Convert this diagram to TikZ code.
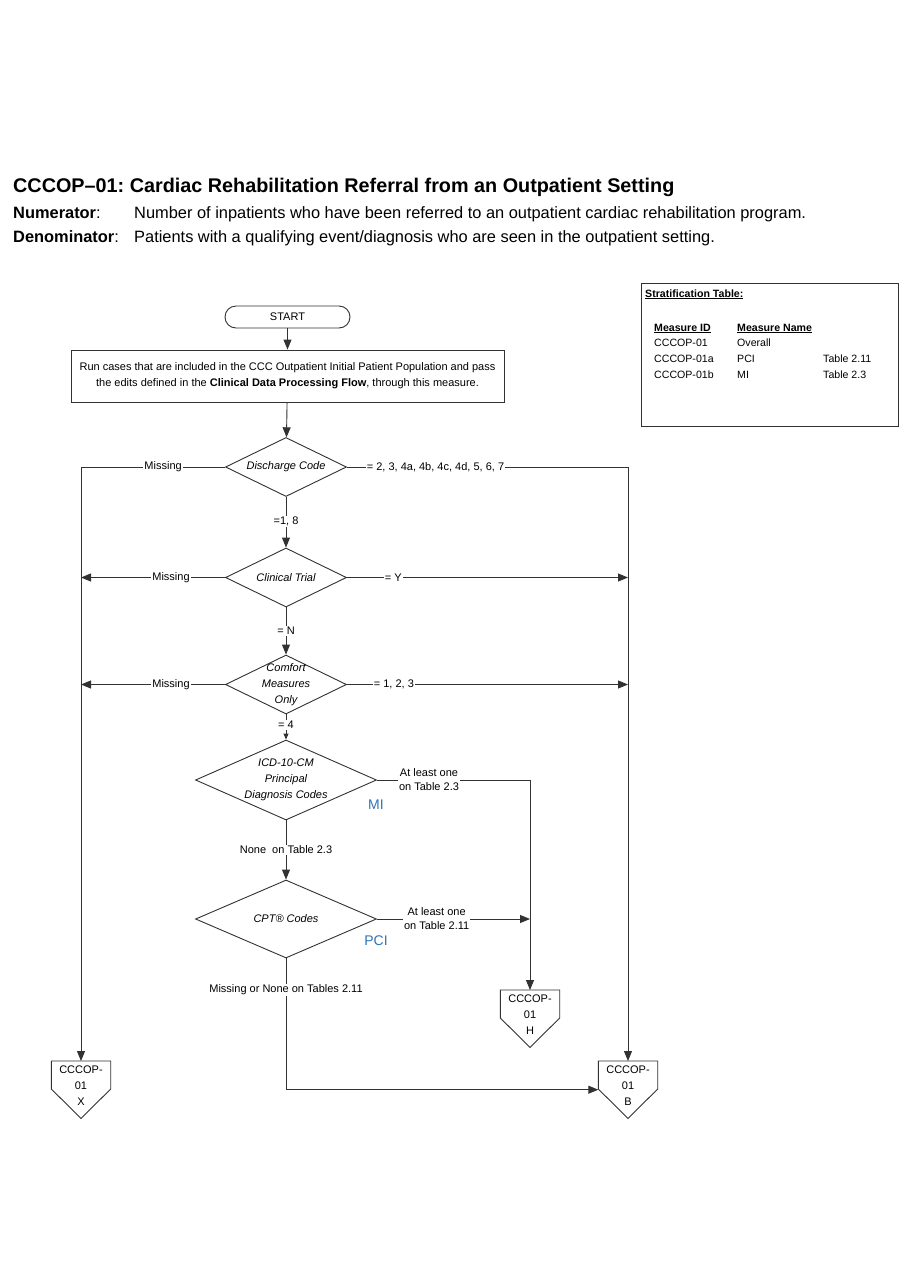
\documentclass[tikz,border=0pt]{standalone}
\usepackage{fontspec}
\setmainfont{Liberation Sans}
\usetikzlibrary{arrows.meta,shapes.geometric,calc}
\definecolor{lc}{RGB}{50,50,50}
\definecolor{mblue}{RGB}{46,117,182}
\frenchspacing
\newcommand\offpg[4]{%
  \node[minimum width=59pt, minimum height=57pt, inner sep=0pt, anchor=north] (#1) at (#2,#3) {};
  \draw[line] (#1.north west) -- (#1.north east) -- ([yshift=-28pt]#1.north east) -- (#1.south) -- ([yshift=-28pt]#1.north west) -- cycle;
  \node[txt, anchor=north] at ([yshift=-5pt]#1.north) {CCCOP-\\01\\#4};
}
\begin{document}
\begin{tikzpicture}[x=1pt,y=-1pt,
  line/.style={draw=lc, line width=0.9pt},
  arr/.style={line, -{Triangle[length=10pt,width=8pt]}},
  sarr/.style={line, -{Triangle[length=6pt,width=5pt]}},
  dia/.style={diamond, draw=lc, line width=0.9pt, inner sep=0pt},
  lbl/.style={font=\fontsize{11}{14}\selectfont, fill=white, inner sep=1pt, align=center},
  txt/.style={font=\fontsize{11}{16}\selectfont, align=center, inner sep=0pt},
  itx/.style={font=\fontsize{11}{16}\selectfont\itshape, align=center, inner sep=0pt},
  tbl/.style={font=\fontsize{10.6}{13}\selectfont, anchor=base west, inner sep=0pt},
  blu/.style={font=\fontsize{14}{16}\selectfont, text=mblue, inner sep=0pt}
]
\useasboundingbox[fill=white] (0,0) rectangle (900,1286);

% header
\node[anchor=base west, inner sep=0pt, font=\fontsize{19.8}{22}\selectfont\bfseries] (title) at (13,192)
  {CCCOP\textendash01: Cardiac Rehabilitation Referral from an Outpatient Setting};
\node[anchor=base west, inner sep=0pt, font=\fontsize{16.4}{18}\selectfont\bfseries] (numl) at (13,218) {Numerator\mdseries:};
\node[anchor=base west, inner sep=0pt, font=\fontsize{16.4}{18}\selectfont] (numt) at (134,218)
  {Number of inpatients who have been referred to an outpatient cardiac rehabilitation program.};
\node[anchor=base west, inner sep=0pt, font=\fontsize{16.4}{18}\selectfont\bfseries] (denl) at (13,242) {Denominator\mdseries:};
\node[anchor=base west, inner sep=0pt, font=\fontsize{16.4}{18}\selectfont] (dent) at (134,242)
  {Patients with a qualifying event/diagnosis who are seen in the outpatient setting.};

% stratification table
\node[line, minimum width=257pt, minimum height=143pt, inner sep=0pt] (strat) at (769.5,354.5) {};
\node[tbl, font=\fontsize{10.6}{13}\selectfont\bfseries] (sth) at (645,297) {\underline{Stratification Table:}};
\node[tbl, font=\fontsize{10.6}{13}\selectfont\bfseries] (h1) at (654,331) {\underline{Measure ID}};
\node[tbl, font=\fontsize{10.6}{13}\selectfont\bfseries] (h2) at (737,331) {\underline{Measure Name}};
\node[tbl] (r1a) at (654,346) {CCCOP-01};
\node[tbl] (r1b) at (737,346) {Overall};
\node[tbl] (r2a) at (654,362) {CCCOP-01a};
\node[tbl] (r2b) at (737,362) {PCI};
\node[tbl] (r2c) at (823,362) {Table 2.11};
\node[tbl] (r3a) at (654,378) {CCCOP-01b};
\node[tbl] (r3b) at (737,378) {MI};
\node[tbl] (r3c) at (823,378) {Table 2.3};

% flow nodes
\node[line, rounded corners=11pt, minimum width=125pt, minimum height=22pt, txt] (start) at (287.5,317) {START};
\node[line, minimum width=433pt, minimum height=52pt, txt] (run) at (287.5,376)
  {Run cases that are included in the CCC Outpatient Initial Patient Population and pass\\
   the edits defined in the \textbf{Clinical Data Processing Flow}, through this measure.};

\node[dia, minimum width=121pt, minimum height=59pt] (dc) at (286,467) {};
\node[itx] at (dc) {Discharge Code};
\node[dia, minimum width=121pt, minimum height=59pt] (ct) at (286,577.5) {};
\node[itx] at (ct) {Clinical Trial};
\node[dia, minimum width=121pt, minimum height=59pt] (cm) at (286,684.5) {};
\node[itx] at (cm) {Comfort\\Measures\\Only};
\node[dia, minimum width=181pt, minimum height=80pt] (icd) at (286,780) {};
\node[itx] at (icd) {ICD-10-CM\\Principal\\Diagnosis Codes};
\node[dia, minimum width=181pt, minimum height=78pt] (cpt) at (286,919) {};
\node[itx] at (cpt) {CPT\textregistered{} Codes};
\node[blu] (mi) at (376,805) {MI};
\node[blu] (pci) at (376,941) {PCI};

\offpg{X}{81}{1061}{X}
\offpg{B}{628}{1061}{B}
\offpg{H}{530}{990}{H}

% connectors
\draw[arr] (start) -- (run);
\draw[arr] (run) -- (dc);
\draw[arr] (dc.west) -- node[lbl, pos=0.43]{Missing} (dc.west -| X.north) -- (X.north);
\draw[arr] (dc.east) -- node[lbl, pos=0.315]{= 2, 3, 4a, 4b, 4c, 4d, 5, 6, 7} (dc.east -| B.north) -- (B.north);
\draw[arr] (dc.south) -- node[lbl, pos=0.48]{=1, 8} (ct.north);

\draw[arr] (ct.west) -- node[lbl, pos=0.375]{Missing} (ct.west -| X.north);
\draw[arr] (ct.east) -- node[lbl, pos=0.165]{= Y} (ct.east -| B.north);
\draw[arr] (ct.south) -- node[lbl, pos=0.5]{= N} (cm.north);

\draw[arr] (cm.west) -- node[lbl, pos=0.375]{Missing} (cm.west -| X.north);
\draw[arr] (cm.east) -- node[lbl, pos=0.167]{= 1, 2, 3} (cm.east -| B.north);
\draw[sarr] (cm.south) -- node[lbl, pos=0.42]{= 4} (icd.north);

\draw[arr] (icd.east) -- node[lbl, pos=0.34]{At least one\\on Table 2.3} (icd.east -| H.north) -- (H.north);
\draw[arr] (icd.south) -- node[lbl, pos=0.5]{None\ \ on Table 2.3} (cpt.north);
\coordinate (j) at (cpt.east -| H.north);
\draw[arr] (cpt.east) -- node[lbl, pos=0.39]{At least one\\on Table 2.11} (j);
\draw[arr] (cpt.south) -- node[lbl, pos=0.24]{Missing or None on Tables 2.11} (cpt.south |- B.west) -- (B.west);
\end{tikzpicture}
\end{document}
